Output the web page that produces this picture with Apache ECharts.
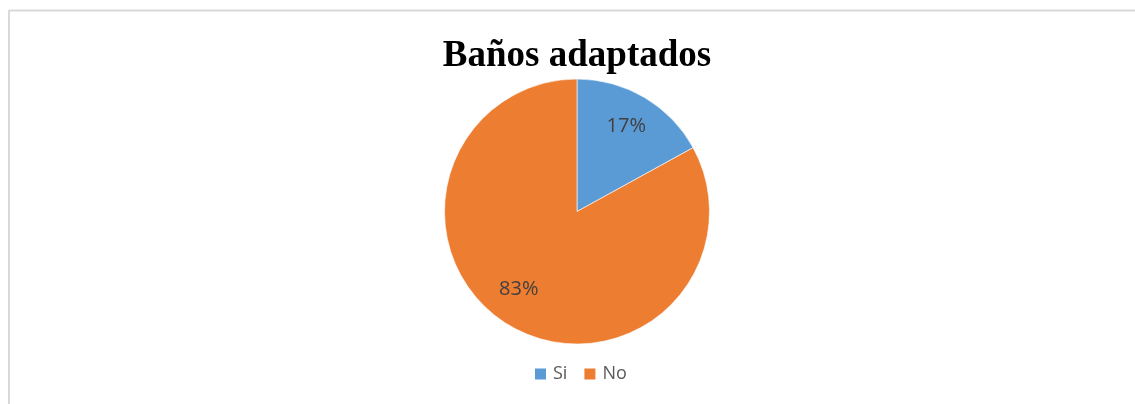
<!DOCTYPE html>
<html>
<head>
<meta charset="utf-8">
<script src="https://cdn.jsdelivr.net/npm/echarts@6/dist/echarts.min.js"></script>
<style>
html,body{margin:0;padding:0;background:#fff;overflow:hidden;}
#chart{width:1135px;height:404px;}
</style>
</head>
<body>
<div id="chart"></div>
<script>
var titleText = 'Baños adaptados';
var categories = ['Si', 'No'];
var values = [17, 83];
var colors = ['#5B9BD5', '#ED7D31'];
var labelOffsets = [[14, -26], [-23, 18]];

var chart = echarts.init(document.getElementById('chart'), null, {renderer: 'canvas'});
var data = categories.map(function (c, i) {
  return {
    name: c,
    value: values[i],
    itemStyle: {color: colors[i]},
    label: {offset: labelOffsets[i]}
  };
});
chart.setOption({
  animation: false,
  backgroundColor: '#ffffff',
  graphic: [{
    type: 'line',
    silent: true,
    shape: {x1: 9, y1: 10.5, x2: 1135, y2: 10.5},
    style: {stroke: '#d9d9d9', lineWidth: 2}
  }, {
    type: 'line',
    silent: true,
    shape: {x1: 9, y1: 10, x2: 9, y2: 404},
    style: {stroke: '#d9d9d9', lineWidth: 2}
  }, {
    type: 'text',
    silent: true,
    x: 577,
    y: 38,
    style: {
      text: titleText,
      textAlign: 'center',
      textVerticalAlign: 'top',
      font: 'bold 37px "Liberation Serif", "Times New Roman", serif',
      fill: '#000000'
    }
  }],
  legend: {
    data: categories,
    top: 365,
    left: 533,
    itemWidth: 13,
    itemHeight: 13,
    itemGap: 15,
    icon: 'rect',
    padding: 0,
    textStyle: {
      fontFamily: '"Open Sans", sans-serif',
      fontSize: 18,
      color: '#595959',
      padding: [0, 0, 0, 1]
    }
  },
  series: [{
    type: 'pie',
    center: [577, 211.5],
    radius: 132.5,
    startAngle: 90,
    clockwise: true,
    data: data,
    itemStyle: {borderColor: '#ffffff', borderWidth: 0.6},
    label: {
      show: true,
      position: 'inside',
      formatter: function (p) { return Math.round(p.percent) + '%'; },
      fontFamily: '"Open Sans", sans-serif',
      fontSize: 20,
      color: '#404040'
    },
    labelLine: {show: false},
    emphasis: {disabled: true}
  }]
});
</script>
</body>
</html>
